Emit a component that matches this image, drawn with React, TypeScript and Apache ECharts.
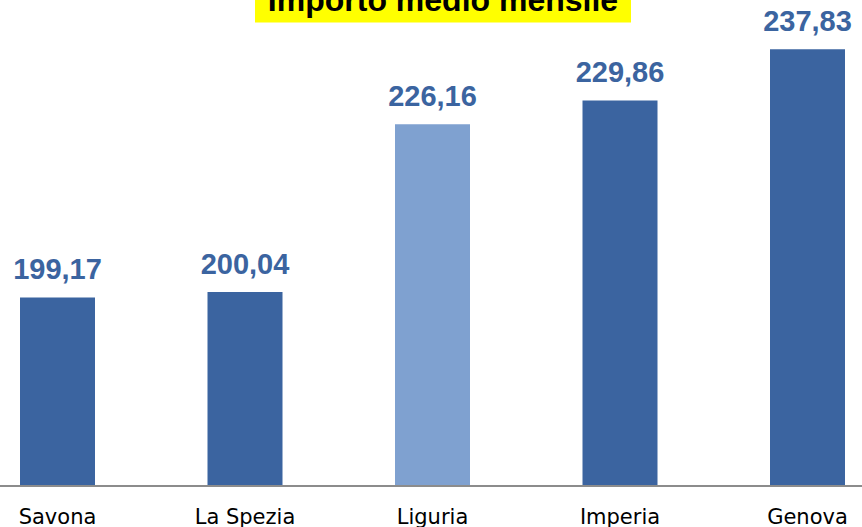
import React, { useEffect, useRef } from "react";
import * as echarts from "echarts";

const categories = ["Savona", "La Spezia", "Liguria", "Imperia", "Genova"];
const values = [199.17, 200.04, 226.16, 229.86, 237.83];
const barColors = ["#3B64A0", "#3B64A0", "#7FA1D0", "#3B64A0", "#3B64A0"];
const titleText = "Importo medio mensile";

export default function App() {
  const ref = useRef<HTMLDivElement>(null);
  useEffect(() => {
    document.body.style.margin = "0";
    const chart = echarts.init(ref.current!, null, { renderer: "svg" });
    chart.setOption({
      animation: false,
      grid: { left: 57.5, right: 54.5, top: 0, bottom: 41, containLabel: false },
      xAxis: {
        type: "category",
        data: categories,
        boundaryGap: false,
        axisLine: { show: false },
        axisTick: { show: false },
        axisLabel: {
          color: "#000",
          fontSize: 21,
          fontFamily: "DejaVu Sans, sans-serif",
          margin: 21,
        },
      },
      yAxis: {
        type: "value",
        min: 170,
        max: 245.5,
        show: false,
        splitLine: { show: false },
      },
      series: [
        {
          type: "bar",
          barWidth: 75,
          data: values.map((v, i) => ({ value: v, itemStyle: { color: barColors[i] } })),
          label: {
            show: true,
            position: "top",
            distance: 14,
            color: "#3B64A0",
            fontSize: 29,
            fontWeight: "bold",
            fontFamily: "Liberation Sans, sans-serif",
            formatter: (p: any) => p.value.toFixed(2).replace(".", ","),
          },
        },
      ],
      graphic: [
        {
          type: "line",
          shape: { x1: 0, y1: 486, x2: 862, y2: 486 },
          style: { stroke: "#8c8c8c", lineWidth: 2 },
          z: 5,
        },
        {
          type: "rect",
          shape: { x: 255, y: -10, width: 376, height: 32.5 },
          style: { fill: "#FFFF00" },
          z: 10,
        },
        {
          type: "text",
          x: 443,
          y: 16,
          z: 11,
          style: {
            text: titleText,
            fill: "#000",
            font: "bold 32px 'Liberation Sans', sans-serif",
            textAlign: "center",
            textVerticalAlign: "bottom",
          },
        },
      ],
    });
    return () => chart.dispose();
  }, []);
  return <div ref={ref} style={{ width: 862, height: 527, position: "absolute", left: 0, top: 0 }} />;
}
